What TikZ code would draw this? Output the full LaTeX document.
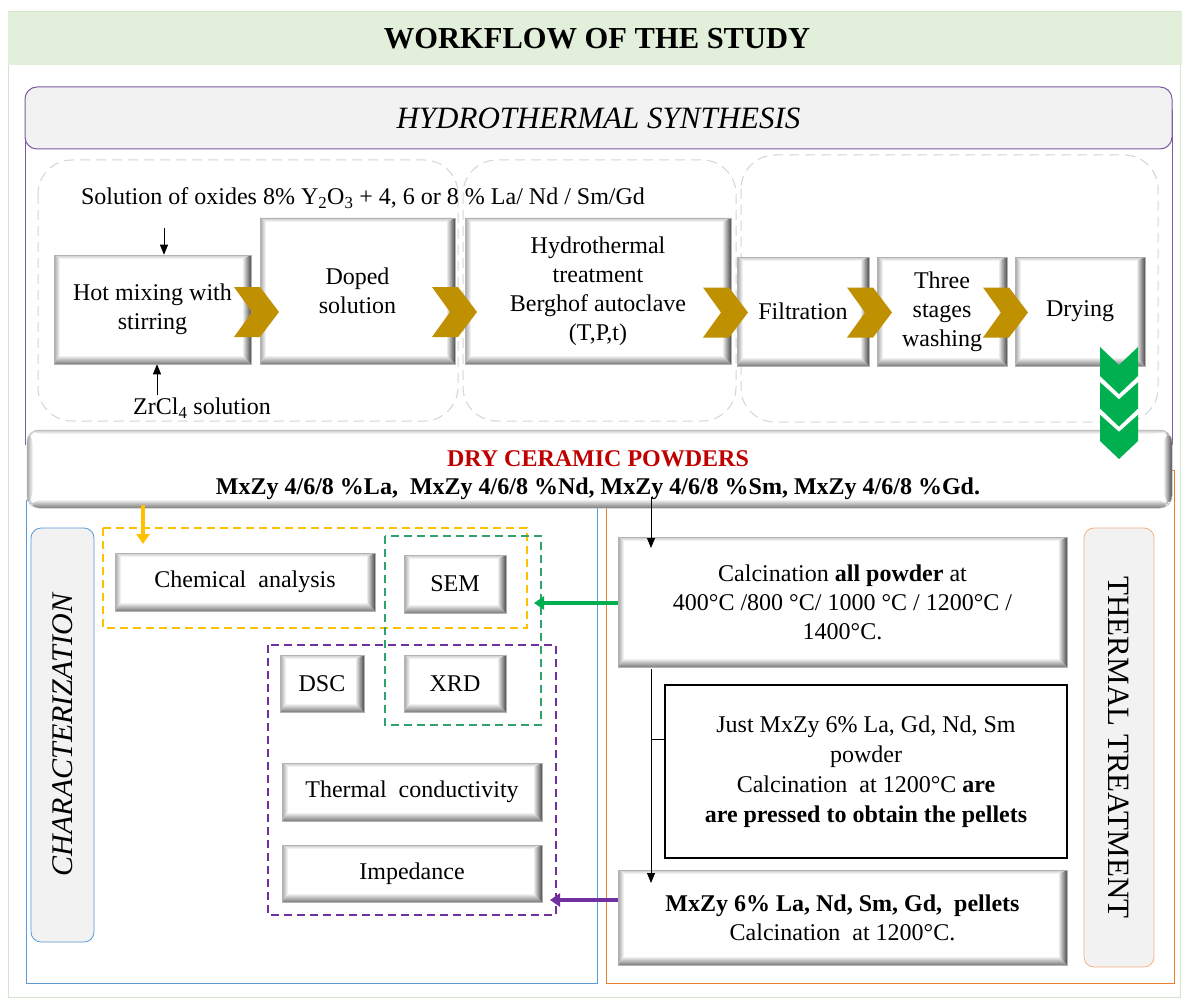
\documentclass[tikz,border=0pt]{standalone}
\usepackage{fontspec}
\setmainfont{Liberation Serif}
\usetikzlibrary{calc,arrows.meta}
\definecolor{titlegreen}{HTML}{E2EFDA}
\definecolor{framegreen}{HTML}{D3E6CC}
\definecolor{hpurple}{HTML}{7B5AA6}
\definecolor{hgray}{HTML}{F2F2F2}
\definecolor{grpgray}{HTML}{D4D4D4}
\definecolor{gold}{HTML}{BF9000}
\definecolor{chevgreen}{HTML}{00B050}
\definecolor{dryred}{HTML}{C00000}
\definecolor{cblue}{HTML}{5B9BD5}
\definecolor{corange}{HTML}{ED7D31}
\definecolor{lorange}{HTML}{F4B183}
\definecolor{myyellow}{HTML}{FFC000}
\definecolor{dgreen}{HTML}{2FA36B}
\definecolor{dpurple}{HTML}{7030A0}
\tikzset{
  txt/.style={font=\fontsize{24}{29}\selectfont, align=center, text=black},
  bevel/.style={txt, fill=white, draw=black!30, line width=0.5pt, inner sep=6pt,
    path picture={
      \coordinate (bvNW) at (path picture bounding box.north west);
      \coordinate (bvSE) at (path picture bounding box.south east);
      \coordinate (bvA) at ($(bvNW)+(6pt,-4pt)$);
      \coordinate (bvB) at ($(bvSE)+(-9pt,9pt)$);
      \shade[top color=black!22, bottom color=white] (bvNW) -- (bvNW -| bvSE) -- (bvA -| bvB) -- (bvA) -- cycle;
      \shade[left color=black!35, right color=white] (bvNW |- bvSE) -- (bvNW) -- (bvA) -- (bvA |- bvB) -- cycle;
      \shade[top color=white, bottom color=black!52] (bvSE) -- (bvNW |- bvSE) -- (bvA |- bvB) -- (bvB) -- cycle;
      \shade[left color=white, right color=black!70] (bvNW -| bvSE) -- (bvSE) -- (bvB) -- (bvA -| bvB) -- cycle;
    }},
  grp/.style={draw=grpgray, line width=1pt, dash pattern=on 10pt off 6pt, rounded corners=34pt},
  blk/.style={-{Triangle[length=10pt,width=8pt]}, line width=0.8pt, draw=black},
  fatarrow/.style={-{Triangle[length=10pt,width=13pt]}, line width=3.5pt},
  dframe/.style={line width=1.2pt, dash pattern=on 8pt off 5pt},
  sidebox/.style={fill=hgray, rounded corners=10pt, line width=0.8pt, minimum height=63pt},
}
\newcommand\goldchev[2]{\fill[gold] (#1,#2-25) -- (#1+26,#2-25) -- (#1+45,#2) -- (#1+26,#2+25) -- (#1,#2+25) -- (#1+18,#2) -- cycle;}
\newcommand\downchev[2]{\fill[chevgreen] (#1-19,#2) -- (#1,#2+18) -- (#1+19,#2) -- (#1+19,#2+29) -- (#1,#2+47) -- (#1-19,#2+29) -- cycle;}
\newcommand\downchevsep[2]{\draw[white, line width=2.5pt] (#1-20,#2) -- (#1,#2+18) -- (#1+20,#2);}
\begin{document}
\begin{tikzpicture}[x=1pt,y=-1pt]
\useasboundingbox (0,0) rectangle (1182,1000);
\fill[white] (0,0) rectangle (1182,1000);
% title band and outer frame
\draw[framegreen, line width=1pt] (8,12) rectangle (1180,997);
\fill[titlegreen] (8,12) rectangle (1182,65);
\node[font=\fontsize{30.5}{34}\selectfont\bfseries] (title) at (597,39) {WORKFLOW OF THE STUDY};
% hydrothermal synthesis frame
\draw[hpurple, line width=1pt] (25,445) -- (25,110) (1172,110) -- (1172,445);
\node[fill=hgray, draw=hpurple, line width=1pt, rounded corners=12pt, minimum width=1147pt, minimum height=62pt,
      font=\fontsize{31}{34}\selectfont\itshape] (hydrohead) at (598.5,118) {HYDROTHERMAL SYNTHESIS};
% dashed groups
\draw[grp] (38,160) rectangle (458,421);
\draw[grp] (463,160) rectangle (736,421);
\draw[grp] (741,155) rectangle (1158,422);
% process row
\node[txt] (sol) at (363,198) {Solution of oxides 8\% Y\textsubscript{2}O\textsubscript{3} + 4, 6 or 8 \% La/ Nd / Sm/Gd};
\node[bevel, minimum width=197pt, minimum height=109pt] (hot) at (152.5,309.5) {Hot mixing with\\stirring};
\node[bevel, minimum width=195pt, minimum height=146pt] (doped) at (357.5,291) {Doped\\solution};
\node[bevel, minimum width=266pt, minimum height=146pt] (hydro) at (598,291) {Hydrothermal\\treatment\\Berghof autoclave\\(T,P,t)};
\node[bevel, minimum width=132pt, minimum height=109pt] (filt) at (803,311.5) {Filtration};
\node[bevel, minimum width=130pt, minimum height=109pt] (wash) at (942,311.5) {Three\\stages\\washing};
\node[bevel, minimum width=130pt, minimum height=109pt] (drying) at (1080,311.5) {Drying};
\node[txt] (zrcl) at (202,408) {ZrCl\textsubscript{4} solution};
\coordinate (solA) at (164,228);
\draw[blk] (solA) -- (solA |- hot.north);
\coordinate (zrA) at (157,395);
\draw[blk] (zrA) -- (zrA |- hot.south);
% gold chevrons
\goldchev{234}{312}
\goldchev{432}{312}
\goldchev{703}{312.5}
\goldchev{847}{312.5}
\goldchev{983}{312.5}
% lower frames
\draw[cblue, line width=0.8pt] (26,500) rectangle (597,983);
\draw[corange, line width=1pt] (606,470) rectangle (1174,983);
% dry ceramic powders
\node[bevel, rounded corners=12pt, minimum width=1145pt, minimum height=78pt] (dry) at (599.5,469) {};
\node[font=\fontsize{24}{28}\selectfont\bfseries, align=center] (drytxt) at (598,475)
  {\textcolor{dryred}{DRY CERAMIC POWDERS}\\MxZy 4/6/8 \%La, \ MxZy 4/6/8 \%Nd, MxZy 4/6/8 \%Sm, MxZy 4/6/8 \%Gd.};
% green down chevrons
\downchev{1119}{347}
\downchev{1119}{379.5}
\downchevsep{1119}{379.5}
\downchev{1119}{412}
\downchevsep{1119}{412}
% characterization side
\node[sidebox, draw=cblue, rotate=90, minimum width=414pt, font=\fontsize{30}{34}\selectfont\itshape] (char) at (62.5,735) {CHARACTERIZATION};
\draw[dframe, myyellow] (103,528) rectangle (527,628);
\draw[dframe, dgreen] (385,536) rectangle (541,725);
\draw[dframe, dpurple] (268,645) rectangle (556,915);
\node[bevel, minimum width=260pt, minimum height=58pt] (chem) at (245,582) {Chemical \ analysis};
\node[bevel, minimum width=102pt, minimum height=58pt] (sem) at (455,584) {SEM};
\node[bevel, minimum width=84pt, minimum height=57pt] (dsc) at (322,683.5) {DSC};
\node[bevel, minimum width=102pt, minimum height=57pt] (xrd) at (455,683.5) {XRD};
\node[bevel, minimum width=260pt, minimum height=58pt] (tc) at (412,792) {Thermal \ conductivity};
\node[bevel, minimum width=260pt, minimum height=57pt] (imp) at (412,873.5) {Impedance};
\coordinate (yA) at (143,505);
\coordinate (yB) at (143,544);
\draw[fatarrow, myyellow] (yA) -- (yB);
% thermal treatment side
\node[sidebox, draw=lorange, rotate=-90, minimum width=439pt, minimum height=70pt, font=\fontsize{31}{34}\selectfont] (therm) at (1119,747.5) {THERMAL TREATMENT};
\node[bevel, minimum width=449pt, minimum height=130pt] (calc1) at (842.5,602)
  {Calcination \textbf{all powder} at\\400°C /800 °C/ 1000 °C / 1200°C /\\1400°C.};
\node[txt, draw=black, line width=1.2pt, minimum width=402pt, minimum height=173pt, font=\fontsize{24}{30}\selectfont] (just) at (866,771.5)
  {Just MxZy 6\% La, Gd, Nd, Sm\\powder\\Calcination \ at 1200°C \textbf{are}\\\textbf{are pressed to obtain the pellets}};
\node[bevel, minimum width=449pt, minimum height=95pt] (pell) at (842.5,917.5)
  {\textbf{MxZy 6\% La, Nd, Sm, Gd, \ pellets}\\Calcination \ at 1200°C.};
\coordinate (cA) at (651,497);
\coordinate (cB) at (651,548);
\draw[blk] (cA) -- (cB);
\coordinate (vA) at (651,669);
\coordinate (vB) at (651,883);
\draw[blk] (vA) -- (vB);
\coordinate (tk) at (651,739);
\draw[line width=0.8pt] (tk) -- (tk -| just.west);
% colored arrows
\coordinate (gB) at (534,603);
\draw[fatarrow, chevgreen] (calc1.west |- gB) -- (gB);
\coordinate (pA) at (618,900);
\coordinate (pB) at (550,900);
\draw[fatarrow, dpurple] (pA) -- (pB);
\end{tikzpicture}
\end{document}
